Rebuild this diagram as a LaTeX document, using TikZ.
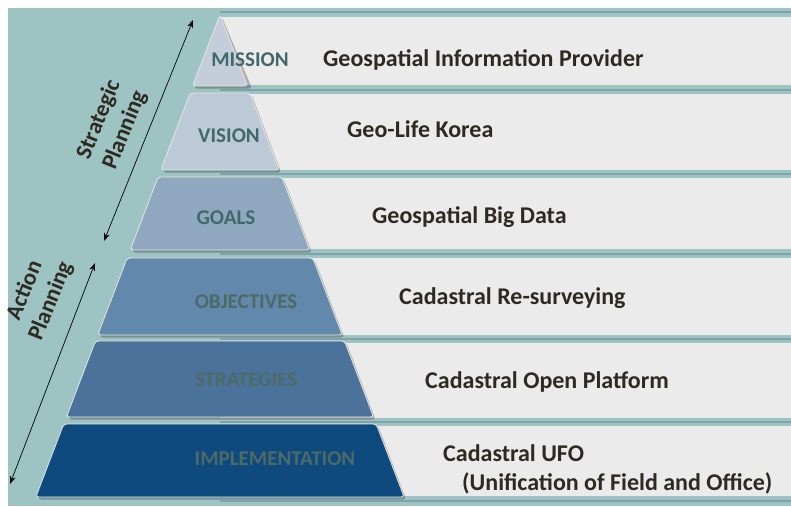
\documentclass[tikz,border=0pt]{standalone}
\usepackage{fontspec}
\setmainfont{Carlito}
\usetikzlibrary{arrows.meta}
\definecolor{bgteal}{HTML}{9EC3C3}
\definecolor{bandline}{HTML}{7FA3A8}
\definecolor{rowfill}{HTML}{EBEBEB}
\definecolor{txtdark}{HTML}{2E2A22}
\definecolor{lblA}{HTML}{42696A}
\definecolor{lblB}{HTML}{4C6A66}
\definecolor{cMission}{HTML}{C4CEDB}
\definecolor{cVision}{HTML}{BCCAD8}
\definecolor{cGoals}{HTML}{8FA8BF}
\definecolor{cObj}{HTML}{6288AB}
\definecolor{cStr}{HTML}{4B729A}
\definecolor{cImp}{HTML}{0F4A7F}
\tikzset{
  rowbox/.style={fill=rowfill},
  band/.style={draw=bandline, line width=2pt},
  layerbox/.style={draw=white!80!gray, line width=0.8pt, rounded corners=3pt},
  layershadow/.style={fill=black, opacity=0.25, rounded corners=3pt},
  lvl/.style={font=\bfseries\fontsize{21}{21}\selectfont, inner sep=0pt},
  goal/.style={font=\bfseries\fontsize{24}{26}\selectfont, text=txtdark, inner sep=0pt, anchor=west},
  side/.style={font=\bfseries\fontsize{23}{28}\selectfont, text=txtdark, align=center, inner sep=0pt, rotate=68},
  dbl/.style={{Stealth[length=8pt,width=6pt]}-{Stealth[length=8pt,width=6pt]}, line width=0.7pt, black}
}
\newcommand{\pyrlayer}[3]{%
  \pgfmathsetmacro\xlt{220-0.382*(#1-15)}%
  \pgfmathsetmacro\xrt{220+0.382*(#1-15)}%
  \pgfmathsetmacro\xlb{220-0.382*(#2-15)}%
  \pgfmathsetmacro\xrb{220+0.382*(#2-15)}%
  \fill[layershadow] (\xlt+2,#1+2) -- (\xrt+2,#1+2) -- (\xrb+2,#2+2.5) -- (\xlb+2,#2+2.5) -- cycle;
  \draw[layerbox, fill=#3] (\xlt,#1) -- (\xrt,#1) -- (\xrb,#2) -- (\xlb,#2) -- cycle;}
\begin{document}
\begin{tikzpicture}[x=1pt,y=-1pt]
\useasboundingbox (0,0) rectangle (791,506);
\fill[white] (0,0) rectangle (791,506);
\fill[bgteal] (8,8) rectangle (791,506);
% rows
\foreach \a/\b in {17/85, 94/170, 178/249, 258/335, 343/418, 426/496}{
  \fill[rowbox] (220,\a) rectangle (791,\b);
}
\foreach \y in {12, 89.5, 174, 253.5, 339, 422, 501}{
  \draw[band] (220,\y) -- (791,\y);
}
% pyramid
\fill[layershadow] (222,17) -- (252,88.5) -- (194,88.5) -- cycle;
\draw[layerbox, fill=cMission] (220,15) -- (247.5,86) -- (192.5,86) -- cycle;
\pyrlayer{93}{170}{cVision}
\pyrlayer{177}{250}{cGoals}
\pyrlayer{258}{335}{cObj}
\pyrlayer{341}{417}{cStr}
\pyrlayer{424}{497}{cImp}
% level labels
\node[lvl, text=lblA] (mission) at (250,60) {MISSION};
\node[lvl, text=lblA] (vision) at (229,136) {VISION};
\node[lvl, text=lblA] (goals) at (226,218) {GOALS};
\node[lvl, text=lblB] (objectives) at (246,302) {OBJECTIVES};
\node[lvl, text=lblB] (strategies) at (246,380) {STRATEGIES};
\node[lvl, text=lblB] (implementation) at (275,459) {IMPLEMENTATION};
% right texts
\node[goal] (g1) at (323,60) {Geospatial Information Provider};
\node[goal] (g2) at (347,129) {Geo-Life Korea};
\node[goal] (g3) at (372,217) {Geospatial Big Data};
\node[goal] (g4) at (399,298) {Cadastral Re-surveying};
\node[goal] (g5) at (425,382) {Cadastral Open Platform};
\node[goal] (g6) at (443,453) {Cadastral UFO};
\node[goal] (g7) at (462,483) {(Unification of Field and Office)};
% planning arrows
\coordinate (sTop) at (193,20);
\coordinate (sBot) at (104,241);
\coordinate (aTop) at (95,263);
\coordinate (aBot) at (10,484);
\draw[dbl] (sBot) -- (sTop);
\draw[dbl] (aBot) -- (aTop);
\node[side] (strategic) at (112,125) {Strategic\\Planning};
\node[side] (action) at (38,296) {Action\\Planning};
\end{tikzpicture}
\end{document}
